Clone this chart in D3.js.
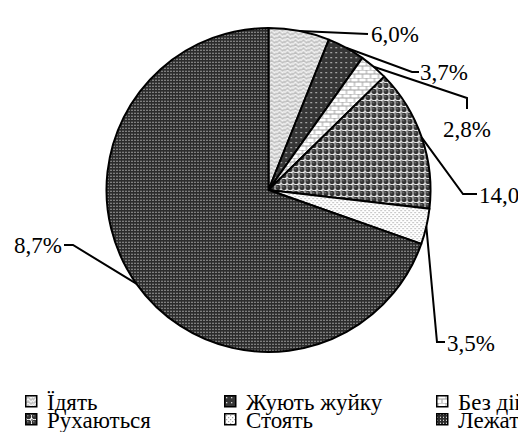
<!DOCTYPE html>
<html><head><meta charset="utf-8">
<script src="https://cdn.jsdelivr.net/npm/d3@7"></script>
<style>html,body{margin:0;padding:0;background:#fff;}svg{display:block;}
svg text{font-family:"Liberation Serif","DejaVu Serif","Times New Roman",serif;}</style>
</head><body>
<svg id="chart" width="518" height="432"></svg>
<script>
const categories = ["Їдять", "Жують жуйку", "Без дій", "Рухаються", "Стоять", "Лежать"];
const values = [6.0, 3.7, 2.8, 14.0, 3.5, 68.7];
const patternIds = ["pEat", "pChew", "pIdle", "pMove", "pStand", "pLie"];

// label layout (elbow point, end point, text anchor point) - layout only
const labelLayout = [
  {elbow:[368,34], end:[368,34], tx:371, ty:34, anchor:"start"},
  {elbow:[412,72], end:[419,72], tx:420, ty:72, anchor:"start"},
  {elbow:[467,98], end:[467,109], tx:467, ty:129, anchor:"middle"},
  {elbow:[463,194], end:[477,194], tx:479, ty:195, anchor:"start"},
  {elbow:[437,342], end:[445,342], tx:447, ty:343, anchor:"start"},
  {elbow:[73,245], end:[64,245], tx:62, ty:245, anchor:"end"}
];

const W = 518, H = 432;
const cx = 268.5, cy = 190, R = 162;
const FS = 23;
const svg = d3.select("#chart");
const defs = svg.append("defs");

defs.append("clipPath").attr("id","crop").append("rect")
  .attr("x",14).attr("y",0).attr("width",W).attr("height",H);

function pat(id, w, h){ return defs.append("pattern").attr("id",id).attr("patternUnits","userSpaceOnUse").attr("width",w).attr("height",h); }
{ const p = pat("pEat", 8, 8);
  p.append("rect").attr("width",8).attr("height",8).attr("fill","#c0c0c0");
  p.append("path").attr("d","M0,3 L3,0 L6,3 L8,1 M0,7 L3,4 L6,7 L8,5 M-1,1 L1,-1").attr("stroke","#f4f4f4").attr("stroke-width",1.3).attr("fill","none");
}
{ const p = pat("pChew", 5, 5);
  p.append("rect").attr("width",5).attr("height",5).attr("fill","#363636");
  p.append("rect").attr("x",2).attr("y",2).attr("width",1.3).attr("height",1.3).attr("fill","#d8d8d8");
}
{ const p = pat("pIdle", 8, 8);
  p.append("rect").attr("width",8).attr("height",8).attr("fill","#ffffff");
  p.append("path").attr("d","M0,0 L8,0 M0,4 L8,4 M2,0 L2,4 M6,4 L6,8").attr("stroke","#a0a0a0").attr("stroke-width",1).attr("fill","none");
}
{ const p = pat("pMove", 6, 6);
  p.append("rect").attr("width",6).attr("height",6).attr("fill","#ffffff");
  p.append("rect").attr("x",0).attr("y",0).attr("width",2).attr("height",2).attr("fill","#9a9a9a");
  p.append("circle").attr("cx",3.5).attr("cy",3.5).attr("r",2.7).attr("fill","#333");
  p.append("circle").attr("cx",2.8).attr("cy",2.8).attr("r",0.8).attr("fill","#8a8a8a");
}
{ const p = pat("pStand", 4, 4);
  p.append("rect").attr("width",4).attr("height",4).attr("fill","#ffffff");
  p.append("rect").attr("x",0).attr("y",0).attr("width",1.2).attr("height",1.2).attr("fill","#a8a8a8");
  p.append("rect").attr("x",2).attr("y",2).attr("width",1.2).attr("height",1.2).attr("fill","#a8a8a8");
}
{ const p = pat("pLie", 3, 3);
  p.append("rect").attr("width",3).attr("height",3).attr("fill","#2c2c2c");
  p.append("rect").attr("x",1).attr("y",1).attr("width",1).attr("height",1).attr("fill","#d0d0d0");
  p.append("rect").attr("x",1).attr("y",0).attr("width",1).attr("height",1).attr("fill","#606060");
}

const g = svg.append("g").attr("clip-path","url(#crop)");

const data = categories.map((c,i)=>({cat:c, value:values[i], pid:patternIds[i], lay:labelLayout[i]}));
const pie = d3.pie().sort(null).value(d=>d.value).startAngle(0).endAngle(2*Math.PI);
const arcs = pie(data);
const arc = d3.arc().innerRadius(0).outerRadius(R);
const outerArc = d3.arc().innerRadius(R).outerRadius(R);

const pg = g.append("g").attr("transform",`translate(${cx},${cy})`);
pg.selectAll("path.slice").data(arcs).join("path").attr("class","slice")
  .attr("d",arc)
  .attr("fill",d=>`url(#${d.data.pid})`)
  .attr("stroke","#000").attr("stroke-width",2).attr("stroke-linejoin","round");

const fmt = v => d3.format(".1f")(v).replace(".", ",") + "%";

g.selectAll("polyline.leader").data(arcs).join("polyline").attr("class","leader")
  .attr("points", d=>{
    const c = outerArc.centroid(d);
    const s = [cx + c[0], cy + c[1]];
    return [s, d.data.lay.elbow, d.data.lay.end].map(p=>p.join(",")).join(" ");
  })
  .attr("fill","none").attr("stroke","#000").attr("stroke-width",2);

g.selectAll("text.lbl").data(arcs).join("text").attr("class","lbl")
  .attr("x",d=>d.data.lay.tx).attr("y",d=>d.data.lay.ty)
  .attr("dy","0.35em")
  .attr("text-anchor",d=>d.data.lay.anchor)
  .attr("font-size",FS).attr("fill","#000")
  .text(d=>fmt(d.data.value));

// legend
const colX = [25, 224, 436];
const rowY = [395, 413];
const lg = g.append("g");
const items = lg.selectAll("g.item").data(data).join("g").attr("class","item")
  .attr("transform",(d,i)=>`translate(${colX[i%3]},${rowY[Math.floor(i/3)]})`);
items.append("rect").attr("x",0.75).attr("y",0.75).attr("width",11).attr("height",11)
  .attr("fill",d=>`url(#${d.pid})`).attr("stroke","#000").attr("stroke-width",1.5);
items.append("text").attr("x",22).attr("y",6.5).attr("dy","0.35em")
  .attr("font-size",FS).attr("fill","#000")
  .text(d=>d.cat);
</script>
</body></html>
